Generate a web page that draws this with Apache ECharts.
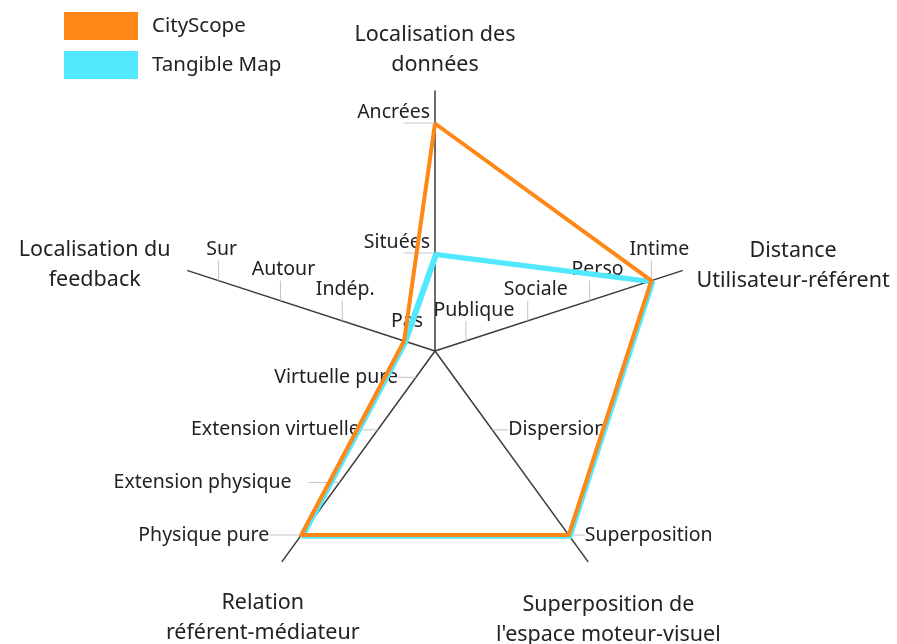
<!DOCTYPE html>
<html>
<head>
<meta charset="utf-8">
<script src="https://cdn.jsdelivr.net/npm/echarts@6/dist/echarts.min.js"></script>
<style>
  html, body { margin: 0; padding: 0; background: #fff; }
  #main { width: 897px; height: 644px; }
</style>
</head>
<body>
<div id="main"></div>
<script>
// axes, counter-clockwise from the top
var axisNames = [
  'Localisation des\ndonnées',
  'Localisation du\nfeedback',
  'Relation\nréférent-médiateur',
  'Superposition de\nl\'espace moteur-visuel',
  'Distance\nUtilisateur-référent'
];
// levels of each axis, from the centre outwards
var levelsDonnees = ['', 'Situées', '', 'Ancrées'];
var levelsFeedback = ['Pas', 'Indép.', 'Autour', 'Sur'];
var levelsRelation = ['Virtuelle pure', 'Extension virtuelle', 'Extension physique', 'Physique pure'];
var levelsSuperposition = ['', 'Dispersion', '', 'Superposition'];
var levelsDistance = ['Publique', 'Sociale', 'Perso', 'Intime'];
var axisLevels = [levelsDonnees, levelsFeedback, levelsRelation, levelsSuperposition, levelsDistance];

// the two systems, one level per axis
var cityScope = ['Ancrées', 'Pas', 'Physique pure', 'Superposition', 'Intime'];
var tangibleMap = ['Situées', 'Pas', 'Physique pure', 'Superposition', 'Intime'];

var orange = '#ff8716';
var cyan = '#52e8fd';
var font = 'Noto Sans';
var leadColor = '#c4c4c4';
var labelSize = 19.5;

// level i sits on value 2i+1 of a 0..8 scale
function toValues(picks) {
  return picks.map(function (p, k) { return axisLevels[k].indexOf(p) * 2 + 1; });
}
function levelOf(v) {
  return v % 2 === 1 ? (v - 1) / 2 : -1;
}

// label styles: text beside the axis with a short leader
function labelLeftAbove(levels) {
  return {
    align: 'right', verticalAlign: 'bottom',
    formatter: function (v) { var n = levels[levelOf(v)]; return n ? '{t|' + n + '}\n{h|}' : ''; },
    rich: {
      t: { fontSize: labelSize, fontFamily: font, color: '#222', lineHeight: 21, padding: [0, 5, 0, 0] },
      h: { width: 31, height: 1, lineHeight: 1, backgroundColor: leadColor, align: 'right' }
    }
  };
}
// tickLens: leader length per level (0 = text only, set a little above the axis)
function labelTick(levels, shift, tickLens) {
  return {
    align: 'center', verticalAlign: 'bottom',
    formatter: function (v) {
      var i = levelOf(v), n = levels[i];
      if (!n) return '';
      return tickLens[i] ? '{t|' + n + '}\n{v|}' : '{p|' + n + '}';
    },
    rich: {
      t: { fontSize: labelSize, fontFamily: font, color: '#222', align: 'center', padding: [0, 0, 1, shift] },
      p: { fontSize: labelSize, fontFamily: font, color: '#222', padding: [0, 0, 10, shift] },
      v: { width: 1, height: 20, lineHeight: 20, backgroundColor: leadColor, align: 'center' }
    }
  };
}
function labelLeft(levels, leadLens, gaps) {
  return {
    align: 'right', verticalAlign: 'middle',
    formatter: function (v) {
      var i = levelOf(v), n = levels[i];
      return n ? '{t|' + n + '}{g' + i + '|}{h' + i + '|}' : '';
    },
    rich: (function () {
      var r = { t: { fontSize: labelSize, fontFamily: font, color: '#222' } };
      leadLens.forEach(function (w, i) {
        r['h' + i] = { width: w, height: 1, lineHeight: 1, backgroundColor: leadColor };
        r['g' + i] = { width: gaps[i], height: 1, lineHeight: 1 };
      });
      return r;
    })()
  };
}
function labelRight(levels) {
  return {
    align: 'left', verticalAlign: 'middle',
    formatter: function (v) { var n = levels[levelOf(v)]; return n ? '{h|}{t|' + n + '}' : ''; },
    rich: {
      t: { fontSize: labelSize, fontFamily: font, color: '#222' },
      h: { width: 16, height: 1, lineHeight: 1, backgroundColor: leadColor }
    }
  };
}

var myChart = echarts.init(document.getElementById('main'));
var option = {
  backgroundColor: '#fff',
  animation: false,
  legend: {
    data: ['CityScope', 'Tangible Map'],
    orient: 'vertical',
    left: 64, top: 12, padding: 0,
    icon: 'rect',
    itemWidth: 74, itemHeight: 28, itemGap: 11,
    textStyle: { fontSize: 20.5, fontFamily: font, color: '#222', padding: [0, 0, 0, 9] }
  },
  radar: {
    center: [435, 351],
    radius: 260,
    startAngle: 90,
    splitNumber: 8,
    shape: 'polygon',
    splitLine: { show: false },
    splitArea: { show: false },
    axisTick: { show: false },
    axisLine: { lineStyle: { color: '#3a3a3a', width: 1.5 } },
    axisLabel: { show: true, margin: 0, fontSize: labelSize, fontFamily: font, color: '#222' },
    axisName: {
      color: '#222', fontSize: 21.5, fontFamily: font, lineHeight: 30,
      formatter: function (name) {
        return name.split('\n').map(function (s) { return '{n|' + s + '}'; }).join('\n');
      },
      rich: { n: { fontSize: 21.5, fontFamily: font, color: '#222', lineHeight: 30, align: 'center' } }
    },
    indicator: [
      { name: axisNames[0], min: 0, max: 8, nameGap: 11, axisLabel: labelLeftAbove(levelsDonnees) },
      { name: axisNames[1], min: 0, max: 8, nameGap: 18, axisLabel: labelTick(levelsFeedback, 6, [0, 20, 20, 20]) },
      { name: axisNames[2], min: 0, max: 8, nameGap: 33,
        nameTextStyle: { align: 'center', verticalAlign: 'top' },
        axisLabel: labelLeft(levelsRelation, [18, 18, 31, 32], [0, 0, 17, 0]) },
      { name: axisNames[3], min: 0, max: 8, nameGap: 35,
        nameTextStyle: { align: 'center', verticalAlign: 'top' }, axisLabel: labelRight(levelsSuperposition) },
      { name: axisNames[4], min: 0, max: 8, nameGap: 15, axisLabel: labelTick(levelsDistance, 16, [20, 20, 20, 20]) }
    ]
  },
  series: [{
    type: 'radar',
    symbol: 'none',
    data: [
      {
        name: 'Tangible Map', value: toValues(tangibleMap),
        itemStyle: { color: cyan },
        lineStyle: { color: cyan, width: 3.5, shadowColor: cyan, shadowBlur: 0, shadowOffsetX: 2, shadowOffsetY: 2 }
      },
      {
        name: 'CityScope', value: toValues(cityScope),
        itemStyle: { color: orange },
        lineStyle: { color: orange, width: 4 }
      }
    ]
  }]
};
myChart.setOption(option);
</script>
</body>
</html>
